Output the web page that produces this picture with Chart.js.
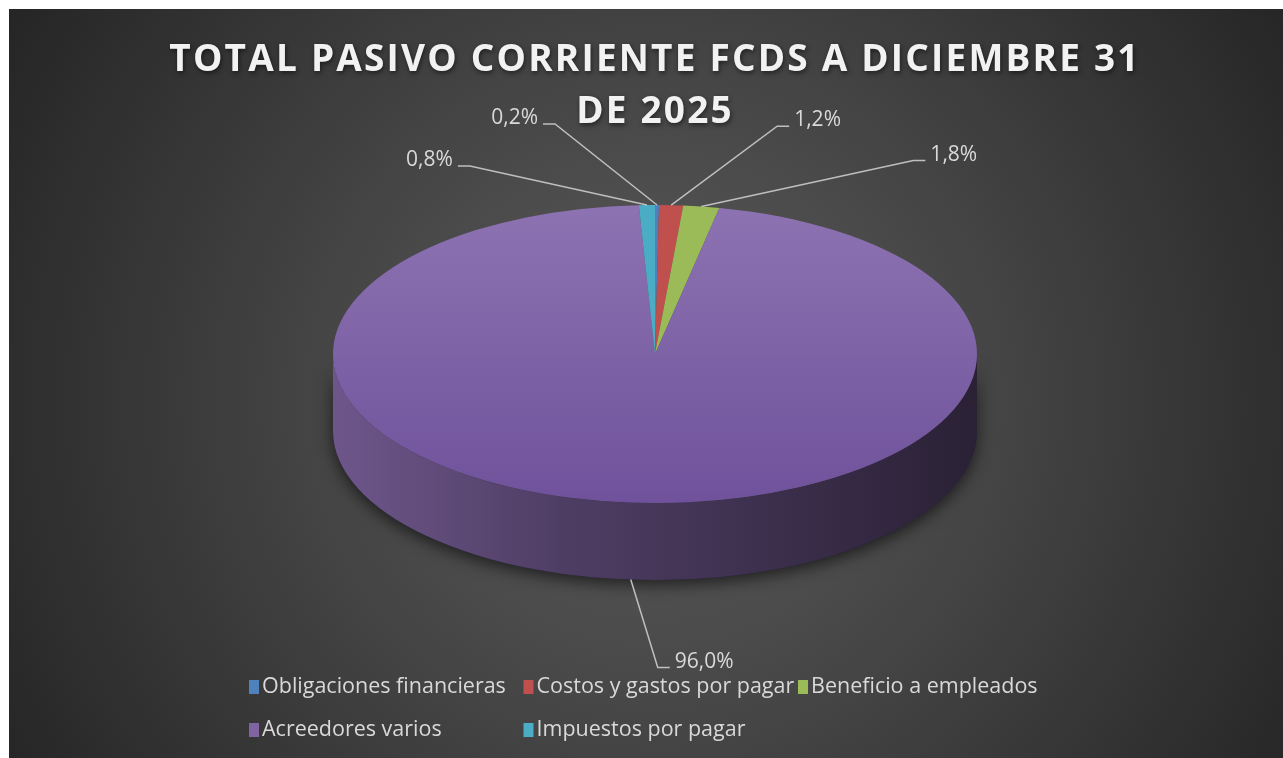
<!DOCTYPE html>
<html>
<head>
<meta charset="utf-8">
<script src="https://cdn.jsdelivr.net/npm/chart.js@4.4.1/dist/chart.umd.min.js"></script>
<style>
    body { margin: 0; background: #ffffff; overflow: hidden; }
    #chart { position: absolute; left: 9px; top: 9px; }
</style>
</head>
<body>
<canvas id="chart" width="1292" height="749"></canvas>
<script>
const titleLines = ['TOTAL PASIVO CORRIENTE FCDS A DICIEMBRE 31', 'DE 2025'];
const categories = ['Obligaciones financieras', 'Costos y gastos por pagar', 'Beneficio a empleados', 'Acreedores varios', 'Impuestos por pagar'];
const percentages = [0.2, 1.2, 1.8, 96.0, 0.8];
const colors = ['#4F81BD', '#C0504D', '#9BBB59', '#8064A2', '#4BACC6'];

// where Excel put each label, relative to the slice edge
const labelOffsets = [[-102, -81], [106, -79], [212, -46], [27, 88], [-177, -39]];

// 3d look
const PIE_RX = 322;
const PIE_RY = 149;
const PIE_DEPTH = 77;
const PIE_CY = 345;

function shade(hex, f) {
    const n = parseInt(hex.slice(1), 16);
    const r = Math.round(((n >> 16) & 255) * f);
    const g = Math.round(((n >> 8) & 255) * f);
    const b = Math.round((n & 255) * f);
    return `rgb(${r},${g},${b})`;
}

function fmtPct(v) {
    return v.toFixed(1).replace('.', ',') + '%';
}

const backgroundPlugin = {
    id: 'bg',
    beforeDraw(chart) {
        const ctx = chart.ctx;
        const g = ctx.createRadialGradient(chart.width / 2, 390, 0, chart.width / 2, 390, 780);
        g.addColorStop(0, '#5c5c5c');
        g.addColorStop(0.45, '#444444');
        g.addColorStop(1, '#232323');
        ctx.save();
        ctx.fillStyle = g;
        ctx.fillRect(0, 0, chart.width, chart.height);
        ctx.restore();
        // title shadow + spacing, reset before the pie
        ctx.shadowColor = 'rgba(0,0,0,0.55)';
        ctx.shadowBlur = 5;
        ctx.shadowOffsetX = 1;
        ctx.shadowOffsetY = 2;
        ctx.letterSpacing = '2.2px';
    },
    beforeDatasetsDraw(chart) {
        const ctx = chart.ctx;
        ctx.shadowColor = 'transparent';
        ctx.shadowBlur = 0;
        ctx.shadowOffsetX = 0;
        ctx.shadowOffsetY = 0;
        ctx.letterSpacing = '0px';

        const meta = chart.getDatasetMeta(0);
        const first = meta.data[0];
        const cx = chart.width / 2;
        const cy = PIE_CY;

        // shadow under the side wall
        ctx.save();
        ctx.shadowColor = 'rgba(0,0,0,0.6)';
        ctx.shadowBlur = 16;
        ctx.shadowOffsetY = 5;
        ctx.fillStyle = '#2a2040';
        ctx.beginPath();
        ctx.ellipse(cx, cy, PIE_RX, PIE_RY, 0, 0, Math.PI);
        ctx.ellipse(cx, cy + PIE_DEPTH, PIE_RX, PIE_RY, 0, Math.PI, 0, true);
        ctx.closePath();
        ctx.fill();
        ctx.restore();

        // side wall of each slice on the front half
        meta.data.forEach((arc, i) => {
            const s = Math.max(arc.startAngle, 0);
            const e = Math.min(arc.endAngle, Math.PI);
            if (e <= s) return;
            const g = ctx.createLinearGradient(cx - PIE_RX, 0, cx + PIE_RX, 0);
            g.addColorStop(0, shade(colors[i], 0.86));
            g.addColorStop(0.35, shade(colors[i], 0.62));
            g.addColorStop(0.7, shade(colors[i], 0.46));
            g.addColorStop(1, shade(colors[i], 0.33));
            ctx.fillStyle = g;
            ctx.beginPath();
            ctx.ellipse(cx, cy, PIE_RX, PIE_RY, 0, s, e);
            ctx.ellipse(cx, cy + PIE_DEPTH, PIE_RX, PIE_RY, 0, e, s, true);
            ctx.closePath();
            ctx.fill();
        });

        // squash the library's pie into the top face
        const R = first.outerRadius;
        ctx.save();
        ctx.translate(cx, cy);
        ctx.scale(PIE_RX / R, PIE_RY / R);
        ctx.translate(-first.x, -first.y);
    },
    afterDatasetsDraw(chart) {
        const ctx = chart.ctx;
        ctx.restore();

        const meta = chart.getDatasetMeta(0);
        const cx = chart.width / 2;
        const cy = PIE_CY;
        ctx.save();
        ctx.strokeStyle = '#bfbfbf';
        ctx.lineWidth = 1.5;
        ctx.fillStyle = '#d9d9d9';
        ctx.font = '21px "Open Sans"';
        ctx.textBaseline = 'middle';
        meta.data.forEach((arc, i) => {
            const a = (arc.startAngle + arc.endAngle) / 2;
            const ax = cx + PIE_RX * Math.cos(a);
            const ay = cy + PIE_RY * Math.sin(a) + (Math.sin(a) > 0 ? PIE_DEPTH : 0);
            const ex = ax + labelOffsets[i][0];
            const ey = ay + labelOffsets[i][1];
            const side = labelOffsets[i][0] >= 0 ? 1 : -1;
            ctx.beginPath();
            ctx.moveTo(ax, ay);
            ctx.lineTo(ex, ey);
            ctx.lineTo(ex + side * 12, ey);
            ctx.stroke();
            ctx.textAlign = side > 0 ? 'left' : 'right';
            ctx.fillText(fmtPct(percentages[i]), ex + side * 17, ey - 6);
        });
        ctx.restore();
    },
    afterDraw(chart) {
        // legend laid out in a grid like Excel
        const ctx = chart.ctx;
        const startX = 240;
        const colW = 274.5;
        const rows = [678, 721];
        ctx.save();
        ctx.font = '21.5px "Open Sans"';
        ctx.textBaseline = 'middle';
        ctx.textAlign = 'left';
        categories.forEach((name, i) => {
            const x = startX + (i % 3) * colW;
            const y = rows[Math.floor(i / 3)];
            ctx.fillStyle = colors[i];
            ctx.fillRect(x, y - 7, 10, 14);
            ctx.fillStyle = '#d9d9d9';
            ctx.fillText(name, x + 13, y);
        });
        ctx.restore();
    }
};

new Chart(document.getElementById('chart'), {
    type: 'pie',
    data: {
        labels: categories,
        datasets: [{
            data: percentages,
            backgroundColor: (c) => {
                const i = c.dataIndex;
                const area = c.chart.chartArea;
                if (colors[i] !== '#8064A2' || !area) return colors[i];
                const g = c.chart.ctx.createLinearGradient(0, area.top, 0, area.bottom);
                g.addColorStop(0, '#8d73b2');
                g.addColorStop(1, '#6f529b');
                return g;
            },
            borderWidth: 0,
            clip: false
        }]
    },
    options: {
        responsive: false,
        animation: false,
        devicePixelRatio: 1,
        layout: { padding: { bottom: 110 } },
        plugins: {
            title: {
                display: true,
                text: titleLines,
                color: '#f2f2f2',
                font: { family: '"Open Sans"', size: 37, weight: 'bold', lineHeight: 1.42 },
                padding: { top: 25, bottom: 10 }
            },
            legend: { display: false },
            tooltip: { enabled: false }
        }
    },
    plugins: [backgroundPlugin]
});
</script>
</body>
</html>
